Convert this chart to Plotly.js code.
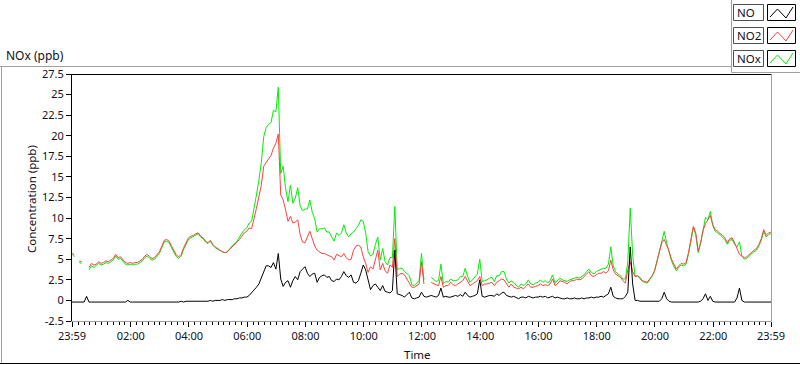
<!DOCTYPE html>
<html>
<head>
<meta charset="utf-8">
<script src="https://cdn.plot.ly/plotly-3.0.1.min.js"></script>
<style>
  html, body { margin: 0; padding: 0; background: #ffffff; }
  #chart { width: 800px; height: 365px; }
</style>
</head>
<body>
<div id="chart"></div>
<script>
// ---- data: 5-minute samples from 23:59 (previous day) to 23:59 ----
const startTime = '2023-01-01 23:59';
const endTime = '2023-01-02 23:59';
const stepMinutes = 5;

const seriesNames = ['NO', 'NO2', 'NOx'];
const seriesColors = ['#000000', '#ff4040', '#00f000'];

const NO = [
-0.2,-0.2,-0.2,-0.2,-0.2,-0.2,0.5,-0.2,-0.2,-0.2,
-0.2,-0.2,-0.2,-0.2,-0.2,-0.2,-0.2,-0.2,-0.2,-0.2,
-0.2,-0.2,-0.2,0.0,-0.2,-0.2,-0.2,-0.2,-0.2,-0.2,
-0.2,-0.2,-0.2,-0.2,-0.2,-0.2,-0.2,-0.2,-0.2,-0.2,
-0.2,-0.2,-0.2,-0.2,-0.2,-0.1,-0.2,-0.1,-0.1,-0.1,
-0.1,-0.1,-0.1,-0.1,-0.1,-0.1,-0.1,0.0,-0.1,0.0,
0.0,0.0,0.1,0.0,0.1,0.1,0.1,0.2,0.2,0.3,
0.3,0.4,0.4,0.6,0.9,1.2,1.6,2.0,2.7,3.6,
4.2,4.2,4.0,4.6,3.8,5.7,2.6,1.7,2.2,2.4,
1.6,2.4,2.9,2.5,3.5,3.8,4.1,3.3,2.9,3.2,
3.3,2.2,2.8,3.0,3.1,2.8,2.9,2.4,2.3,2.6,
2.5,2.9,3.5,3.0,2.8,3.1,2.2,2.1,2.4,3.3,
4.3,3.7,2.5,1.3,1.8,2.0,1.6,1.2,1.8,1.1,
1.0,0.9,1.2,6.1,0.8,0.7,0.6,0.4,0.7,1.0,
0.3,0.2,0.3,0.4,1.0,0.5,0.4,0.5,0.6,0.5,
0.4,0.6,1.5,0.4,0.5,0.4,0.4,0.5,0.6,0.5,
0.7,0.5,1.0,0.6,0.4,0.5,0.6,0.8,2.5,0.5,
0.4,0.5,0.6,0.6,0.5,0.8,0.6,0.9,1.0,0.6,
0.5,0.4,0.5,0.3,0.2,0.4,0.4,0.3,0.5,0.4,
0.3,0.4,0.4,0.5,0.4,0.5,0.3,0.4,0.5,0.3,
0.4,0.3,0.2,0.2,0.3,0.2,0.2,0.3,0.2,0.2,
0.3,0.2,0.3,0.3,0.4,0.3,0.4,0.4,0.5,0.4,
0.6,0.8,1.6,0.5,0.3,0.2,0.2,0.2,0.5,1.0,
6.5,2.0,0.0,0.0,-0.1,-0.1,-0.1,-0.1,-0.1,-0.1,
-0.1,-0.1,-0.1,0.2,1.0,0.2,-0.1,-0.2,-0.2,-0.2,
-0.2,-0.2,-0.2,-0.2,-0.2,-0.2,-0.2,-0.2,-0.2,-0.1,
0.2,0.8,0.0,0.5,-0.1,-0.2,-0.2,-0.2,-0.2,-0.2,
-0.2,-0.2,-0.2,-0.2,0.3,1.5,0.0,-0.2,-0.2,-0.2,
-0.2,-0.2,-0.2,-0.2,-0.2,-0.2,-0.2,-0.2,-0.2
];

const NO2 = [
5.8,5.5,null,4.8,4.7,null,null,4.0,4.5,4.3,
4.4,4.7,4.5,4.6,4.8,4.7,4.9,5.1,5.6,5.2,
5.3,5.0,4.6,4.5,4.6,4.5,4.6,4.6,4.8,5.0,
5.4,5.6,5.3,5.1,5.2,5.5,5.9,6.6,7.3,7.4,
7.2,6.6,6.0,5.5,5.3,5.6,6.4,7.0,7.6,7.8,
7.9,8.1,8.2,7.8,7.6,7.2,7.0,7.3,6.8,6.5,
6.3,6.0,5.9,5.8,5.9,6.2,6.5,6.8,7.0,7.4,
7.8,8.2,8.4,8.8,8.7,9.8,11.2,12.6,14.0,16.3,
16.8,17.2,17.6,18.5,19.1,20.2,12.8,12.2,11.0,9.6,
10.2,9.4,9.5,9.8,8.0,7.1,7.0,7.8,8.4,7.5,
6.6,6.1,5.9,5.7,5.7,5.5,5.4,5.3,4.9,5.6,
5.4,5.3,5.7,5.2,4.9,5.0,6.1,6.6,6.7,6.5,
5.3,4.5,3.4,4.1,3.8,4.8,6.1,3.7,4.5,3.6,
3.3,4.3,4.0,7.5,2.9,3.2,3.3,3.1,2.6,2.0,
1.6,1.6,1.8,2.0,4.7,2.0,null,null,2.2,2.0,
1.9,1.8,2.9,1.6,1.8,1.8,2.2,1.9,1.8,2.0,
2.2,2.4,2.9,2.3,1.8,2.0,2.2,2.4,2.9,1.8,
2.0,2.0,2.1,2.2,1.8,2.2,2.4,2.6,2.5,2.0,
1.6,2.0,1.6,1.5,1.4,1.6,1.4,1.7,2.0,1.6,
1.6,1.7,1.8,2.0,1.8,1.9,1.8,2.0,2.6,1.8,
2.0,2.4,2.3,2.2,2.0,2.3,2.4,2.4,2.6,2.5,
2.6,2.9,3.2,3.5,3.0,2.9,3.1,3.3,3.3,3.5,
3.3,3.6,4.9,3.7,3.2,3.0,2.8,2.4,2.1,3.7,
4.7,3.5,2.9,3.0,2.8,2.4,2.3,2.2,2.6,3.0,
3.6,4.8,6.0,7.0,7.4,6.8,6.0,5.0,4.3,3.8,
4.2,4.5,4.4,4.6,5.8,7.5,9.0,8.2,6.0,7.0,
8.5,9.3,9.8,10.3,9.2,8.6,8.4,8.2,7.9,7.6,
7.0,7.5,7.6,7.0,6.2,5.6,5.4,5.2,5.3,5.6,
5.9,6.1,6.3,6.8,7.5,8.6,7.9,8.2,8.3
];

const NOx = [
5.6,5.3,null,4.6,4.5,null,null,3.7,4.2,4.0,
4.2,4.5,4.3,4.4,4.6,4.5,4.7,4.9,5.4,5.0,
5.1,4.8,4.4,4.3,4.4,4.3,4.4,4.4,4.6,4.8,
5.2,5.4,5.1,4.9,5.0,5.3,5.7,6.4,7.1,7.2,
7.0,6.4,5.8,5.3,5.1,5.4,6.2,6.8,7.4,7.6,
7.8,8.0,8.1,7.7,7.5,7.1,6.9,7.2,6.7,6.4,
6.2,6.0,5.9,5.8,5.9,6.3,6.6,7.0,7.2,7.7,
8.1,8.6,8.8,9.4,9.6,11.0,12.8,14.6,16.7,19.9,
21.0,21.4,21.6,23.1,22.9,25.9,15.4,16.3,13.6,12.0,
14.0,11.8,12.4,13.7,11.5,10.9,11.1,11.1,12.2,10.7,
9.9,8.3,8.7,8.7,8.8,8.3,8.3,7.7,7.2,8.2,
7.9,8.2,9.2,8.2,7.7,8.1,8.3,8.7,9.1,9.8,
9.6,8.2,5.9,5.4,5.6,6.8,7.7,4.9,6.3,4.7,
4.3,5.2,5.2,11.4,3.7,3.9,3.9,3.5,3.3,3.0,
1.9,1.8,2.1,2.4,5.7,2.5,null,null,2.8,2.5,
2.3,2.4,4.4,2.0,2.3,2.2,2.6,2.4,2.4,2.5,
2.9,2.9,3.9,2.9,2.2,2.5,2.8,3.2,5.0,2.3,
2.4,2.5,2.7,2.8,2.3,3.0,3.0,3.5,3.5,2.6,
2.1,2.4,2.1,1.8,1.6,2.0,1.8,2.0,2.5,2.0,
1.9,2.1,2.2,2.5,2.2,2.4,2.1,2.4,3.1,2.1,
2.4,2.7,2.5,2.4,2.3,2.5,2.6,2.7,2.8,2.7,
2.9,3.1,3.5,3.8,3.4,3.2,3.5,3.7,3.8,3.9,
3.9,4.4,6.5,4.2,3.5,3.2,3.0,2.6,2.6,4.7,
11.2,5.5,2.9,3.0,2.7,2.3,2.2,2.1,2.5,2.9,
3.5,4.7,5.9,7.2,8.4,7.0,5.9,4.8,4.1,3.6,
4.0,4.3,4.2,4.4,5.6,7.3,8.8,8.0,5.8,6.9,
8.7,10.1,9.8,10.8,9.1,8.4,8.2,8.0,7.7,7.4,
6.8,7.3,7.4,6.8,6.5,7.1,5.4,5.0,5.1,5.4,
5.7,5.9,6.1,6.6,7.3,8.4,7.7,8.0,8.1
];

const xTickVals = ['2023-01-01 23:59','2023-01-02 02:00','2023-01-02 04:00','2023-01-02 06:00',
  '2023-01-02 08:00','2023-01-02 10:00','2023-01-02 12:00','2023-01-02 14:00','2023-01-02 16:00',
  '2023-01-02 18:00','2023-01-02 20:00','2023-01-02 22:00','2023-01-02 23:59'];
const xTickText = ['23:59','02:00','04:00','06:00','08:00','10:00','12:00','14:00','16:00',
  '18:00','20:00','22:00','23:59'];
const yTickVals = [-2.5,0,2.5,5,7.5,10,12.5,15,17.5,20,22.5,25,27.5];
const yTickText = ['-2.5','0','2.5','5','7.5','10','12.5','15','17.5','20','22.5','25','27.5'];

// ---- build timestamps ----
function pad(n){ return (n < 10 ? '0' : '') + n; }
function fmt(ms){
  const d = new Date(ms);
  return d.getUTCFullYear() + '-' + pad(d.getUTCMonth()+1) + '-' + pad(d.getUTCDate()) + ' ' +
         pad(d.getUTCHours()) + ':' + pad(d.getUTCMinutes());
}
const t0 = Date.UTC(2023, 0, 1, 23, 59);
const times = NO.map((_, i) => fmt(t0 + i * stepMinutes * 60000));

// ---- pixel helpers for decoration ----
const L = 72, R = 771, T = 74, B = 321;
const px = x => (x - L) / (R - L);
const py = y => (B - y) / (B - T);

const FONT = 'Noto Sans, Segoe UI, Arial, sans-serif';
const TXT = '#101020';

function line(x0, y0, x1, y1, color) {
  return {type:'line', xref:'paper', yref:'paper', x0:px(x0), y0:py(y0), x1:px(x1), y1:py(y1),
          line:{color:color, width:1}, layer:'above'};
}

const shapes = [
  // plot frame
  line(72, 74.5, 771.5, 74.5, '#000000'),
  line(771.5, 74.5, 771.5, 321.5, '#a0a0a0'),
  // outer panel
  line(1.5, 66.5, 1.5, 363.5, '#a0a0a0'),
  line(0, 66.5, 731.5, 66.5, '#a0a0a0'),
  line(731.5, 0, 731.5, 72.5, '#a0a0a0'),
  line(731.5, 72.5, 800, 72.5, '#a0a0a0'),
  line(0, 363.5, 800, 363.5, '#000000')
];

const annotations = [
  {xref:'paper', yref:'paper', x:px(4), y:py(55), xanchor:'left', yanchor:'middle', showarrow:false,
   text:'NOx (ppb)', font:{family:FONT, size:12, color:TXT}},
  {xref:'paper', yref:'paper', x:px(417), y:py(354), xanchor:'center', yanchor:'middle', showarrow:false,
   text:'Time', font:{family:FONT, size:11.5, color:TXT}},
  {xref:'paper', yref:'paper', x:px(31), y:py(199), xanchor:'center', yanchor:'middle', showarrow:false,
   textangle:-90, text:'Concentration (ppb)', font:{family:FONT, size:11.5, color:TXT}}
];

// legend boxes
const rowTops = [4, 27, 50];
seriesNames.forEach((name, k) => {
  const top = rowTops[k];
  shapes.push({type:'rect', xref:'paper', yref:'paper', x0:px(733.5), x1:px(763.5), y0:py(top+0.5), y1:py(top+16.5),
    line:{color:'#505050', width:1}, fillcolor:'rgba(0,0,0,0)', layer:'below'});
  shapes.push({type:'rect', xref:'paper', yref:'paper', x0:px(767.5), x1:px(795.5), y0:py(top+0.5), y1:py(top+16.5),
    line:{color:'#000000', width:1}, fillcolor:'rgba(0,0,0,0)', layer:'below'});
  const pts = [[770, top+13], [777.5, top+5], [786, top+14], [793, top+3]];
  const path = 'M' + pts.map(p => px(p[0]) + ',' + py(p[1])).join(' L');
  shapes.push({type:'path', xref:'paper', yref:'paper', path:path,
    line:{color:seriesColors[k], width:1}, layer:'below'});
  annotations.push({xref:'paper', yref:'paper', x:px(735), y:py(top+8.5), xanchor:'left', yanchor:'middle',
    showarrow:false, text:name, font:{family:FONT, size:11.5, color:TXT}});
});

const traces = [
  {x: times, y: NOx, name: 'NOx', type:'scatter', mode:'lines', line:{color:seriesColors[2], width:1}, connectgaps:false},
  {x: times, y: NO2, name: 'NO2', type:'scatter', mode:'lines', line:{color:seriesColors[1], width:1}, connectgaps:false},
  {x: times, y: NO,  name: 'NO',  type:'scatter', mode:'lines', line:{color:seriesColors[0], width:1}, connectgaps:false}
];

const layout = {
  width: 800, height: 365,
  margin: {l: L, r: 800 - R, t: T, b: 365 - B, pad: 0},
  paper_bgcolor: '#ffffff', plot_bgcolor: '#ffffff',
  showlegend: false,
  font: {family: FONT, size: 11, color: TXT},
  xaxis: {
    type: 'date', range: [startTime, endTime],
    tickmode: 'array', tickvals: xTickVals, ticktext: xTickText,
    ticks: 'outside', ticklen: 5, tickcolor: '#000000', tickwidth: 1,
    showgrid: false, zeroline: false,
    showline: true, linecolor: '#a0a0a0', linewidth: 1,
    tickfont: {family: FONT, size: 11, color: TXT},
    minor: {tickmode: 'linear', tick0: '2023-01-02 00:00', dtick: 12 * 60000, ticks: 'outside', ticklen: 3, tickcolor: '#000000', showgrid: false}
  },
  yaxis: {
    range: [-2.5, 27.5],
    tickmode: 'array', tickvals: yTickVals, ticktext: yTickText,
    ticks: 'outside', ticklen: 5, tickcolor: '#000000', tickwidth: 1,
    showgrid: false, zeroline: false,
    showline: true, linecolor: '#000000', linewidth: 1,
    tickfont: {family: FONT, size: 11, color: TXT}
  },
  shapes: shapes,
  annotations: annotations
};

Plotly.newPlot('chart', traces, layout, {displayModeBar: false, staticPlot: true});
</script>
</body>
</html>
